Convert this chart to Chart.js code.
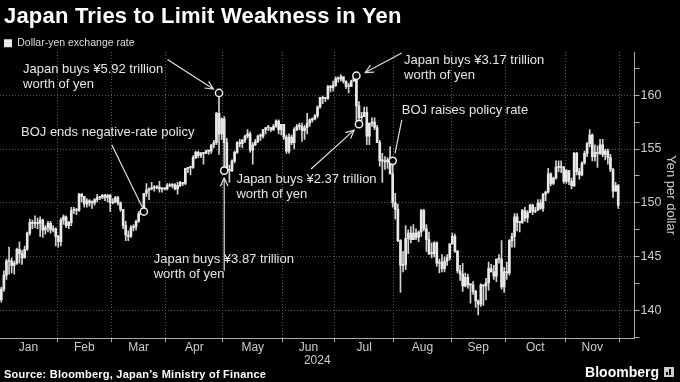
<!DOCTYPE html>
<html>
<head>
<meta charset="utf-8">
<script src="https://cdn.jsdelivr.net/npm/chart.js@4.4.1/dist/chart.umd.min.js"></script>
<style>
html,body{margin:0;padding:0;background:#000;}
#wrap{position:relative;width:680px;height:382px;background:#000;overflow:hidden;font-family:'Liberation Sans',Arial,sans-serif;}
#c{position:absolute;left:0;top:0;}
#title{position:absolute;left:4px;top:3px;color:#fff;font-weight:bold;font-size:22px;letter-spacing:0.2px;white-space:nowrap;}
#source{position:absolute;left:4px;top:368px;color:#fff;font-weight:bold;font-size:11px;letter-spacing:0.22px;white-space:nowrap;}
#logo{position:absolute;right:6px;top:364px;color:#fff;font-size:14px;font-weight:bold;white-space:nowrap;display:flex;align-items:center;}
#logo .ic{display:inline-block;width:10px;height:10px;background:#ccc;margin-left:5px;position:relative;}
#logo .ic i{position:absolute;bottom:2px;width:2px;background:#000;}
</style>
</head>
<body>
<div id="wrap">
  <canvas id="c" width="680" height="382"></canvas>
  <div id="title">Japan Tries to Limit Weakness in Yen</div>
  <div id="source">Source: Bloomberg, Japan’s Ministry of Finance</div>
  <div id="logo">Bloomberg<span class="ic"><i style="left:2px;height:3px"></i><i style="left:5px;height:6px"></i></span></div>
</div>
<script>
// ---------------- data ----------------
const monthLabels = ['Jan','Feb','Mar','Apr','May','Jun','Jul','Aug','Sep','Oct','Nov'];
const tradingDaysPerMonth = [22,21,21,22,23,20,23,22,21,23,21];
const yearLabel = '2024';
const seriesLabel = 'Dollar-yen exchange rate';
const yTickValues = [137.5,140,142.5,145,147.5,150,152.5,155,157.5,160,162.5];

const openPx = [
 141.0,142.0,143.3,144.6,144.6,144.2,144.4,145.7,145.3,144.9,145.7,147.2,148.2,148.1,148.1,148.1,148.4,147.5,147.7,148.1,147.5,147.6,
 146.9,146.4,148.4,148.7,147.9,148.2,149.3,149.3,149.3,150.8,150.6,149.9,150.2,150.0,150.0,150.3,150.5,150.5,150.7,150.5,150.7,
 150.0,150.1,150.5,150.0,149.4,147.9,147.0,146.9,147.7,147.8,148.3,149.0,149.2,150.9,151.2,151.3,151.4,151.4,151.5,151.3,151.3,
 151.3,151.6,151.6,151.7,151.3,151.6,151.9,151.8,153.2,153.3,153.3,154.2,154.7,154.4,154.6,154.6,154.8,154.8,155.4,155.6,158.3,156.4,
 157.8,155.6,153.0,153.0,153.9,154.7,155.6,155.5,155.8,156.2,156.4,154.9,155.4,155.7,156.2,156.2,156.8,157.0,157.0,156.8,157.1,157.6,156.8,
 157.3,156.1,154.8,156.1,155.6,156.8,157.1,157.1,156.7,157.0,157.4,157.7,157.8,158.1,158.9,159.8,159.7,159.7,160.8,160.7,
 160.9,161.5,161.5,161.7,161.3,160.8,160.8,161.3,161.6,159.0,157.9,158.0,158.4,156.2,157.4,157.5,157.0,155.6,153.9,153.9,153.8,154.0,152.7,
 150.0,149.4,146.5,144.2,144.3,146.7,147.2,146.6,147.2,146.8,147.3,149.3,147.6,146.6,145.3,145.3,146.3,144.4,144.5,143.9,144.6,144.9,
 146.2,146.9,145.5,143.7,143.4,142.3,143.1,142.4,142.4,141.8,140.9,140.6,142.4,142.3,142.6,143.9,143.6,143.2,144.8,144.8,142.2,
 143.6,143.5,146.5,146.9,148.7,148.2,148.2,149.3,148.6,149.1,149.8,149.2,149.3,150.0,149.5,150.8,151.0,152.7,151.8,152.3,153.3,153.4,153.3,
 152.0,153.0,152.0,151.6,154.6,152.9,152.6,153.7,154.6,155.5,156.3,154.3,154.7,154.6,155.4,154.5,154.8,154.2,153.1,151.1,151.6
];
const highPx = [
 142.2,143.7,144.8,145.9,144.9,144.6,145.8,146.4,145.6,146.0,147.3,148.5,148.4,148.8,148.6,148.7,148.5,147.9,148.3,148.3,147.9,147.7,
 147.0,148.6,148.9,148.8,148.3,149.6,149.6,149.5,150.9,150.9,150.6,150.4,150.3,150.2,150.4,150.8,150.6,150.8,150.8,150.8,150.8,
 150.4,150.6,150.6,150.1,149.4,148.3,147.4,147.9,148.0,148.4,149.2,149.3,150.9,151.8,151.4,151.9,151.6,151.6,152.0,151.4,151.4,
 151.8,151.8,151.8,151.8,151.9,152.0,151.9,153.2,153.3,153.4,154.4,154.8,154.8,154.7,154.7,154.9,154.9,155.4,155.8,158.4,160.2,157.9,
 158.0,156.0,153.5,154.0,154.8,155.7,155.9,155.9,156.3,156.8,156.6,155.6,155.9,156.3,156.4,156.8,157.0,157.2,157.0,157.3,157.7,157.7,157.3,
 157.3,156.3,156.4,156.3,157.0,157.3,157.4,157.4,157.2,158.3,157.8,157.9,158.2,159.0,159.8,159.9,159.8,160.9,160.9,161.3,
 161.7,161.7,161.9,161.7,161.3,161.1,161.4,161.8,161.8,159.4,158.4,158.9,158.9,157.4,157.9,157.9,157.2,155.8,154.6,154.3,154.2,155.2,153.9,
 150.9,149.9,146.6,145.5,147.9,147.5,147.8,148.0,147.6,147.4,149.4,149.4,148.0,147.3,146.3,146.4,146.4,144.8,145.2,145.0,145.2,146.2,
 147.2,147.1,145.6,144.2,144.4,143.5,143.4,142.5,142.7,141.9,141.0,142.5,142.4,143.0,144.5,144.3,144.2,144.8,145.2,146.5,144.0,
 144.5,146.6,147.2,149.0,149.0,148.3,149.4,149.6,149.3,149.9,149.9,149.6,150.3,150.3,150.9,151.1,153.2,152.8,152.4,153.9,153.9,153.9,153.4,
 153.1,153.0,152.3,154.7,154.7,153.2,153.8,154.8,155.6,156.8,156.4,155.4,155.3,155.9,155.9,155.0,155.0,154.5,153.2,151.9,151.7
];
const lowPx = [
 140.8,141.8,142.9,143.4,143.5,143.4,144.3,144.4,144.3,144.9,145.6,147.0,147.6,147.7,147.6,146.9,146.8,147.1,147.3,147.2,147.3,146.0,
 145.9,146.0,148.0,147.7,147.6,147.9,149.0,148.9,149.2,150.1,149.6,149.6,149.7,149.5,149.8,150.1,150.3,150.4,150.2,150.1,149.2,
 149.9,150.0,149.8,149.2,147.6,146.5,146.5,146.8,147.4,147.5,148.2,148.9,149.2,150.6,150.3,151.2,151.1,151.3,151.0,151.0,151.2,
 151.2,151.5,151.4,151.2,150.8,151.5,151.6,151.7,152.8,152.6,153.2,154.1,154.2,154.2,153.6,154.6,154.5,154.6,155.1,155.4,154.5,155.9,
 153.0,153.0,151.9,152.9,153.7,154.6,155.2,155.1,155.6,156.0,154.7,153.6,155.3,155.6,155.8,156.0,156.4,156.7,156.6,156.7,157.0,156.4,156.3,
 155.9,154.6,154.6,155.4,155.0,156.7,156.8,155.7,155.9,156.4,157.1,157.5,157.7,157.9,158.8,159.2,159.4,159.6,160.3,160.4,
 160.8,161.2,161.3,161.1,160.6,160.2,160.8,161.3,157.4,157.3,157.5,158.0,155.4,155.4,157.1,156.8,155.6,153.4,151.9,153.1,153.2,152.7,149.6,
 148.5,146.4,141.7,143.6,143.8,145.3,146.3,146.6,146.6,146.4,146.9,147.4,145.5,145.2,144.9,145.0,144.1,143.5,143.6,143.6,144.2,144.7,
 146.2,145.4,143.5,142.8,141.8,142.2,142.1,140.7,141.5,140.3,139.6,140.4,140.5,141.0,141.9,143.6,142.9,142.7,144.4,142.0,141.7,
 142.9,143.3,145.9,145.9,147.4,147.3,148.1,148.3,148.2,149.1,148.9,149.1,149.3,149.4,149.2,150.2,150.9,151.6,151.7,152.2,152.9,152.8,151.8,
 151.8,151.7,151.3,151.5,152.6,152.2,152.5,153.6,154.3,155.2,153.9,153.9,153.3,154.5,154.3,154.0,153.6,152.9,150.5,151.1,149.5
];
const closePx = [
 142.0,143.3,144.6,144.6,144.2,144.4,145.7,145.3,144.9,145.7,147.2,148.2,148.1,148.1,148.1,148.4,147.5,147.7,148.1,147.5,147.6,146.9,
 146.4,148.4,148.7,147.9,148.2,149.3,149.3,149.3,150.8,150.6,149.9,150.2,150.0,150.0,150.3,150.5,150.5,150.7,150.5,150.7,150.0,
 150.1,150.5,150.0,149.4,147.9,147.0,146.9,147.7,147.8,148.3,149.0,149.1,150.9,151.2,151.3,151.4,151.4,151.5,151.3,151.3,151.3,
 151.6,151.6,151.7,151.3,151.6,151.9,151.8,153.2,153.3,153.3,154.2,154.7,154.4,154.6,154.6,154.8,154.8,155.4,155.6,158.3,156.4,157.8,
 155.6,153.0,153.0,153.9,154.7,155.6,155.5,155.8,156.2,156.4,154.9,155.4,155.7,156.2,156.2,156.8,157.0,157.0,156.8,157.1,157.6,156.8,157.3,
 156.1,154.8,156.1,155.6,156.8,157.1,157.1,156.7,157.0,157.4,157.7,157.8,158.1,158.9,159.8,159.7,159.7,160.8,160.7,160.9,
 161.5,161.5,161.7,161.3,160.8,160.8,161.3,161.6,159.0,157.9,158.0,158.4,156.2,157.4,157.5,157.0,155.6,153.9,153.9,153.8,154.0,152.7,150.0,
 149.4,146.5,144.2,144.3,146.7,147.2,146.6,147.2,146.8,147.3,149.3,147.6,146.6,145.3,145.3,146.3,144.4,144.5,143.9,144.6,144.9,146.2,
 146.9,145.5,143.7,143.4,142.3,143.1,142.4,142.4,141.8,140.9,140.6,142.4,142.3,142.6,143.9,143.6,143.2,144.8,144.8,142.2,143.6,
 143.5,146.5,146.9,148.7,148.2,148.2,149.3,148.6,149.1,149.8,149.2,149.3,150.0,149.5,150.8,151.0,152.7,151.8,152.3,153.3,153.4,153.3,152.0,
 153.0,152.0,151.6,154.6,152.9,152.6,153.7,154.6,155.5,156.3,154.3,154.7,154.6,155.4,154.5,154.8,154.2,153.1,151.1,151.6,149.8
];

// annotation texts, anchored to trading-day index and yen level
const annotations = [
  {lines:['Japan buys ¥5.92 trillion','worth of yen'], text:[8.9,162.4], from:[64.6,163.3], to:[82.3,160.56], arrow:true, day:84, at:'high'},
  {lines:['BOJ ends negative-rate policy'], text:[8.1,156.5], from:[43.1,155.4], to:[54.9,149.6], arrow:false, day:55, at:'low'},
  {lines:['Japan buys ¥3.87 trillion','worth of yen'], text:[59.3,144.8], from:[86.5,143.7], to:[86.5,152.3], arrow:true, day:86, at:'low'},
  {lines:['Japan buys ¥2.37 trillion','worth of yen'], text:[91.2,152.2], from:[120.0,153.15], to:[136.6,156.75], arrow:true, day:138, at:'low'},
  {lines:['Japan buys ¥3.17 trillion','worth of yen'], text:[155.9,163.25], from:[155.0,163.9], to:[140.9,162.1], arrow:true, day:137, at:'high'},
  {lines:['BOJ raises policy rate'], text:[155.0,158.6], from:[155.0,157.7], to:[152.4,154.6], arrow:false, day:151, at:'high'}
];

// ---------------- derived structure ----------------
const boundaries = [0];
tradingDaysPerMonth.forEach(n => boundaries.push(boundaries[boundaries.length-1] + n));
const midpoints = monthLabels.map((m,i) => (boundaries[i] + boundaries[i+1]) / 2);
const midLabel = new Map(midpoints.map((v,i) => [v, monthLabels[i]]));
const boundarySet = new Set(boundaries.slice(1));
const xTickValues = [...boundaries.slice(1), ...midpoints].sort((a,b)=>a-b);
const nDays = closePx.length;

const bodies = [], wicks = [];
for (let i = 0; i < nDays; i++) {
  bodies.push({x: i + 0.5, y: [openPx[i], closePx[i]]});
  wicks.push({x: i + 0.5, y: [lowPx[i], highPx[i]]});
}
const seriesByField = {high: highPx, low: lowPx, open: openPx, close: closePx};

const annotationPlugin = {
  id: 'notes',
  afterDatasetsDraw(chart) {
    const {ctx, scales: {x, y}} = chart;
    ctx.save();
    annotations.forEach(a => {
      const x1 = x.getPixelForValue(a.from[0]), y1 = y.getPixelForValue(a.from[1]);
      const x2 = x.getPixelForValue(a.to[0]), y2 = y.getPixelForValue(a.to[1]);
      ctx.strokeStyle = '#e0e0e0';
      ctx.lineWidth = 1.2;
      ctx.beginPath(); ctx.moveTo(x1, y1); ctx.lineTo(x2, y2); ctx.stroke();
      if (a.arrow) {
        const ang = Math.atan2(y2 - y1, x2 - x1), L = 9, w = 0.45;
        ctx.beginPath();
        ctx.moveTo(x2 - L*Math.cos(ang - w), y2 - L*Math.sin(ang - w));
        ctx.lineTo(x2, y2);
        ctx.lineTo(x2 - L*Math.cos(ang + w), y2 - L*Math.sin(ang + w));
        ctx.stroke();
      }
      const cx = x.getPixelForValue(a.day + 0.5), cy = y.getPixelForValue(seriesByField[a.at][a.day]);
      ctx.beginPath(); ctx.arc(cx, cy, 3.6, 0, Math.PI*2);
      ctx.fillStyle = '#000'; ctx.fill();
      ctx.lineWidth = 1.5; ctx.strokeStyle = '#f0f0f0'; ctx.stroke();
      ctx.fillStyle = '#e6e6e6';
      ctx.font = '13px "Liberation Sans", Arial, sans-serif';
      ctx.textBaseline = 'middle';
      ctx.textAlign = 'left';
      const tx = x.getPixelForValue(a.text[0]), ty = y.getPixelForValue(a.text[1]);
      a.lines.forEach((s, k) => ctx.fillText(s, tx, ty + k*15));
    });
    ctx.restore();
  }
};

const noEdgePadding = axis => { axis.paddingLeft = 0; axis.paddingRight = 0; axis.paddingTop = 0; axis.paddingBottom = 0; };

Chart.defaults.font.family = '"Liberation Sans", Arial, sans-serif';
Chart.defaults.color = '#cccccc';

new Chart(document.getElementById('c'), {
  type: 'bar',
  data: {
    datasets: [
      {label: seriesLabel, data: bodies, backgroundColor: '#e8e8e8', borderWidth: 0, barThickness: 2, minBarLength: 1, grouped: false},
      {label: 'range', data: wicks, backgroundColor: '#d2d2d2', borderWidth: 0, barThickness: 1, grouped: false}
    ]
  },
  options: {
    responsive: false,
    animation: false,
    events: [],
    layout: {padding: {top: 34, right: 0, bottom: 14, left: 0}},
    plugins: {
      legend: {
        display: true, position: 'top', align: 'start', maxHeight: 18,
        labels: {boxWidth: 8, boxHeight: 8, padding: 4, color: '#dddddd', font: {size: 10.5},
                 filter: item => item.datasetIndex === 0}
      },
      title: {display: false},
      tooltip: {enabled: false}
    },
    scales: {
      x: {
        type: 'linear', position: 'bottom', min: 0, max: 244.8, bounds: 'data', offset: false,
        afterBuildTicks: axis => { axis.ticks = xTickValues.map(v => ({value: v})); },
        afterFit: noEdgePadding,
        ticks: {autoSkip: false, maxRotation: 0, padding: -2, color: '#cccccc', font: {size: 12},
                callback: v => midLabel.has(v) ? midLabel.get(v) : ''},
        grid: {
          offset: false,
          color: c => (c.tick && boundarySet.has(c.tick.value)) ? '#5a5a5a' : 'rgba(0,0,0,0)',
          tickColor: c => (c.tick && boundarySet.has(c.tick.value)) ? '#aaaaaa' : 'rgba(0,0,0,0)',
          tickLength: 4, lineWidth: 1
        },
        border: {display: true, color: '#aaaaaa', width: 1, dash: [1, 2]},
        title: {display: true, text: yearLabel, color: '#cccccc', font: {size: 12}, padding: {top: 1, bottom: 0}}
      },
      y: {
        type: 'linear', position: 'right', min: 137.45, max: 164.0, bounds: 'data',
        afterBuildTicks: axis => { axis.ticks = yTickValues.map(v => ({value: v})); },
        afterFit: noEdgePadding,
        ticks: {autoSkip: false, padding: 1, color: '#cccccc', font: {size: 12.5},
                callback: v => (v % 5 === 0) ? String(v) : ''},
        grid: {
          color: c => (c.tick && c.tick.value % 5 === 0) ? '#5a5a5a' : 'rgba(0,0,0,0)',
          tickColor: '#aaaaaa', tickLength: 5, lineWidth: 1
        },
        border: {display: true, color: '#aaaaaa', width: 1, dash: [1, 2]},
        title: {display: true, text: 'Yen per dollar', color: '#cccccc', font: {size: 13}, padding: {top: 2, bottom: 0}}
      }
    }
  },
  plugins: [annotationPlugin]
});
</script>
</body>
</html>
